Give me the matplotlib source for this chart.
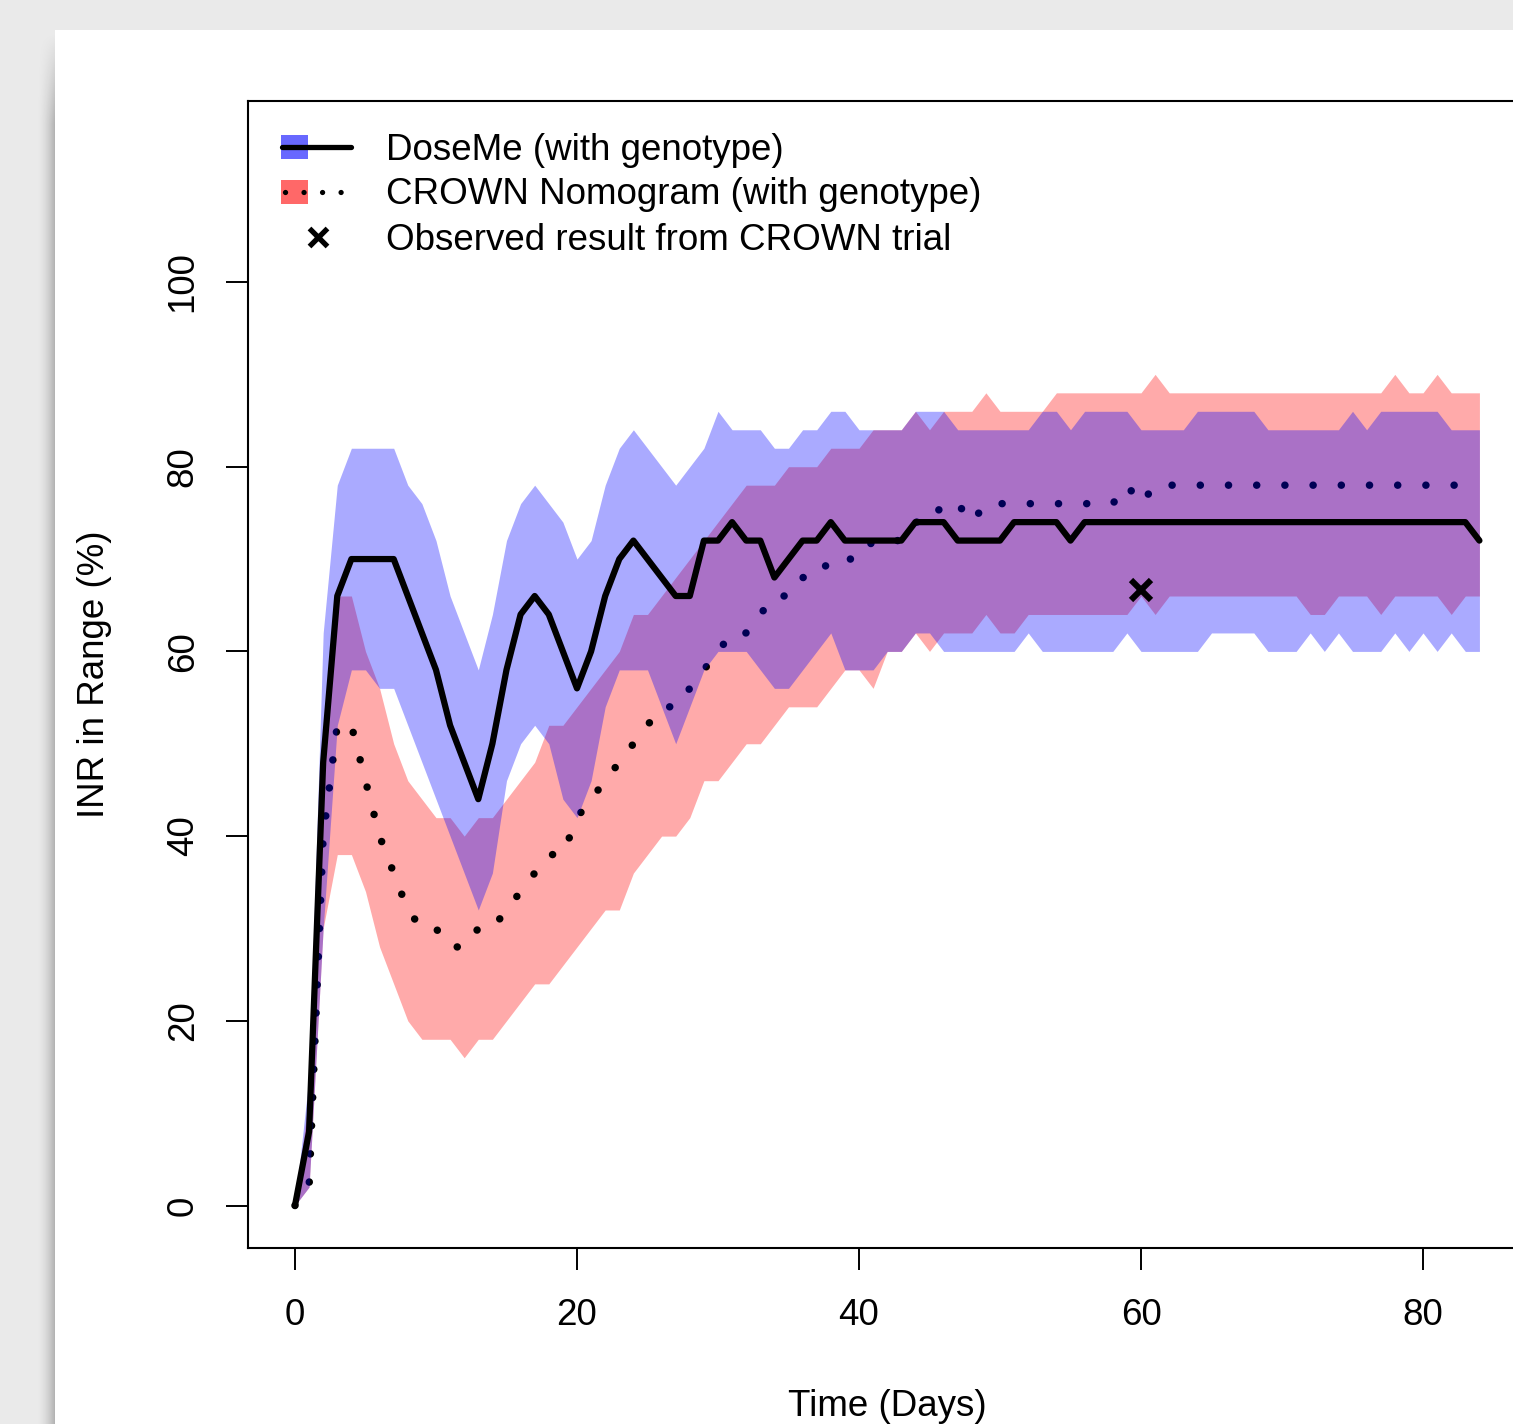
import numpy as np
import matplotlib
matplotlib.use("Agg")
import matplotlib.pyplot as plt
from matplotlib.patches import Rectangle
from matplotlib.lines import Line2D

plt.rcParams['font.family'] = ['Liberation Sans', 'DejaVu Sans']

# ---------------- data ----------------
days = list(range(0, 85))

doseme_mean = [0, 8, 48, 66, 70, 70, 70, 70, 66, 62,
               58, 52, 48, 44, 50, 58, 64, 66, 64, 60,
               56, 60, 66, 70, 72, 70, 68, 66, 66, 72,
               72, 74, 72, 72, 68, 70, 72, 72, 74, 72,
               72, 72, 72, 72, 74, 74, 74, 72, 72, 72,
               72, 74, 74, 74, 74, 72, 74, 74, 74, 74,
               74, 74, 74, 74, 74, 74, 74, 74, 74, 74,
               74, 74, 74, 74, 74, 74, 74, 74, 74, 74,
               74, 74, 74, 74, 72]

doseme_upper = [0, 14, 62, 78, 82, 82, 82, 82, 78, 76,
                72, 66, 62, 58, 64, 72, 76, 78, 76, 74,
                70, 72, 78, 82, 84, 82, 80, 78, 80, 82,
                86, 84, 84, 84, 82, 82, 84, 84, 86, 86,
                84, 84, 84, 84, 86, 86, 86, 84, 84, 84,
                84, 84, 84, 86, 86, 84, 86, 86, 86, 86,
                84, 84, 84, 84, 86, 86, 86, 86, 86, 84,
                84, 84, 84, 84, 84, 86, 84, 86, 86, 86,
                86, 86, 84, 84, 84]

doseme_lower = [0, 2, 30, 52, 58, 58, 56, 56, 52, 48,
                44, 40, 36, 32, 36, 46, 50, 52, 50, 44,
                42, 46, 54, 58, 58, 58, 54, 50, 54, 58,
                60, 60, 60, 58, 56, 56, 58, 60, 62, 58,
                58, 58, 60, 60, 62, 62, 60, 60, 60, 60,
                60, 60, 62, 60, 60, 60, 60, 60, 60, 62,
                60, 60, 60, 60, 60, 62, 62, 62, 62, 60,
                60, 60, 62, 60, 62, 60, 60, 60, 62, 60,
                62, 60, 62, 60, 60]

crown_mean = [0, 2, 40, 52, 52, 46, 40, 36, 32, 30,
              30, 28, 28, 30, 30, 32, 34, 36, 38, 38,
              42, 44, 46, 48, 50, 52, 54, 54, 56, 58,
              60, 62, 62, 64, 66, 66, 68, 68, 70, 70,
              70, 72, 72, 72, 74, 74, 76, 76, 74, 76,
              76, 76, 76, 76, 76, 76, 76, 76, 76, 78,
              76, 78, 78, 78, 78, 78, 78, 78, 78, 78,
              78, 78, 78, 78, 78, 78, 78, 78, 78, 78,
              78, 78, 78, 78, 78]

crown_upper = [0, 12, 50, 66, 66, 60, 56, 50, 46, 44,
               42, 42, 40, 42, 42, 44, 46, 48, 52, 52,
               54, 56, 58, 60, 64, 64, 66, 68, 70, 72,
               74, 76, 78, 78, 78, 80, 80, 80, 82, 82,
               82, 84, 84, 84, 86, 84, 86, 86, 86, 88,
               86, 86, 86, 86, 88, 88, 88, 88, 88, 88,
               88, 90, 88, 88, 88, 88, 88, 88, 88, 88,
               88, 88, 88, 88, 88, 88, 88, 88, 90, 88,
               88, 90, 88, 88, 88]

crown_lower = [0, 2, 30, 38, 38, 34, 28, 24, 20, 18,
               18, 18, 16, 18, 18, 20, 22, 24, 24, 26,
               28, 30, 32, 32, 36, 38, 40, 40, 42, 46,
               46, 48, 50, 50, 52, 54, 54, 54, 56, 58,
               58, 56, 60, 60, 62, 60, 62, 62, 62, 64,
               62, 62, 64, 64, 64, 64, 64, 64, 64, 64,
               66, 64, 66, 66, 66, 66, 66, 66, 66, 66,
               66, 66, 64, 64, 66, 66, 66, 64, 66, 66,
               66, 66, 64, 66, 66]

observed_day = [60]
observed_value = [66.6]

x_ticks = [0, 20, 40, 60, 80]
y_ticks = [0, 20, 40, 60, 80, 100]

legend_labels = ["DoseMe (with genotype)",
                 "CROWN Nomogram (with genotype)",
                 "Observed result from CROWN trial"]

FS = 26.5

# ---------------- figure ----------------
W, H = 1513, 1424
fig = plt.figure(figsize=(W / 100, H / 100), dpi=100)
fig.patch.set_facecolor('#EAEAEA')

bg = fig.add_axes([0, 0, 1, 1], zorder=0)
bg.set_xlim(0, W)
bg.set_ylim(H, 0)
bg.axis('off')

# page + left shadow
bg.add_patch(Rectangle((55, 30), W - 55, H - 30, facecolor='white',
                       edgecolor='none', zorder=2))
gx = np.linspace(0, 1, 40)
gy = np.linspace(0, 1, 200)
GX, GY = np.meshgrid(gx, gy)
alpha = 0.24 * GX ** 1.8 * np.clip((GY * (H - 30)) / 90.0, 0, 1)
rgba = np.zeros((200, 40, 4))
rgba[..., 3] = alpha
bg.imshow(rgba, extent=(36, 55, H, 30), aspect='auto', zorder=1,
          interpolation='bilinear')

# main axes
ax_l, ax_r, ax_t, ax_b = 247.6, 1526.8, 101, 1248
ax = fig.add_axes([ax_l / W, (H - ax_b) / H, (ax_r - ax_l) / W, (ax_b - ax_t) / H],
                  zorder=1)
ax.set_facecolor('none')
ax.set_xlim(-3.36, 87.36)
ax.set_ylim(-4.6, 119.6)

ax.fill_between(days, crown_lower, crown_upper, color=(1, 0, 0, 1 / 3),
                linewidth=0, zorder=1)
ax.plot(days, crown_mean, color='black', lw=5.4,
        linestyle=(0, (0.01, 3.75)), dash_capstyle='round', zorder=2)
ax.fill_between(days, doseme_lower, doseme_upper, color=(0, 0, 1, 1 / 3),
                linewidth=0, zorder=3)
ax.plot(days, doseme_mean, color='black', lw=4.5, solid_joinstyle='round',
        solid_capstyle='round', zorder=4)
ax.plot(observed_day, observed_value, linestyle='none', marker='x',
        markersize=14.5, markeredgewidth=4.4, color='black', zorder=5)

for s in ax.spines.values():
    s.set_linewidth(1.5)
ax.set_xticks(x_ticks)
ax.set_yticks(y_ticks)
ax.set_xticklabels([str(v) for v in x_ticks])
ax.set_yticklabels([str(v) for v in y_ticks], rotation=90, va='center')
ax.tick_params(direction='out', length=15.8, width=1.4, labelsize=FS)
ax.tick_params(axis='x', pad=20)
ax.tick_params(axis='y', pad=18)

bg.text(887, 1407, 'Time (Days)', ha='center', va='center', fontsize=FS, zorder=3)
bg.text(95, 674, 'INR in Range (%)', ha='center', va='center', rotation=90,
        fontsize=FS, zorder=3)

# legend (drawn manually, R style, no box)
rows = [147, 192, 237]
bg.add_patch(Rectangle((281, rows[0] - 12), 27, 24, facecolor='#6868FF',
                       edgecolor='none', zorder=3))
bg.add_patch(Rectangle((281, rows[1] - 12), 27, 24, facecolor='#FF6868',
                       edgecolor='none', zorder=3))
bg.add_line(Line2D([282, 351], [rows[0], rows[0]], color='black', lw=3.8,
                   solid_capstyle='round', zorder=4))
bg.add_line(Line2D([285, 345], [rows[1], rows[1]], color='black', lw=3.8,
                   linestyle=(0, (0.01, 3.5)), dash_capstyle='round', zorder=4))
bg.add_line(Line2D([318], [rows[2]], linestyle='none', marker='x', markersize=13,
                   markeredgewidth=3.8, color='black', zorder=4))
for r, lab in zip(rows, legend_labels):
    bg.text(386, r + 3, lab, ha='left', va='center', fontsize=FS, zorder=4)

fig.savefig('out.png', dpi=100, facecolor=fig.get_facecolor())
